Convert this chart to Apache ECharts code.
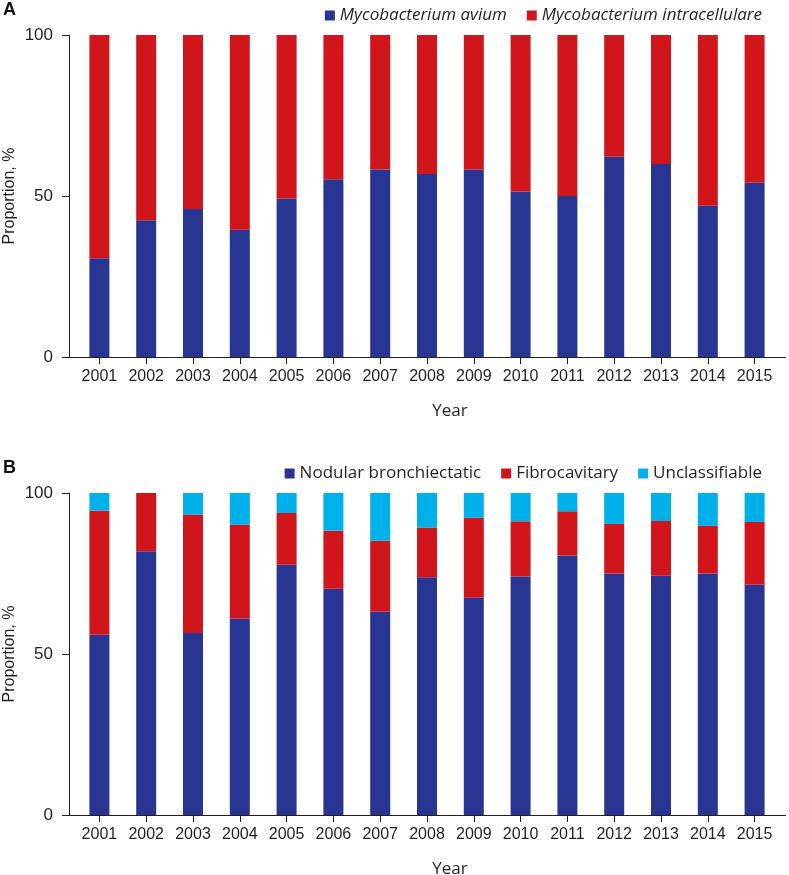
<!DOCTYPE html>
<html>
<head>
<meta charset="utf-8">
<script src="https://cdn.jsdelivr.net/npm/echarts@6/dist/echarts.min.js"></script>
<style>
html,body{margin:0;padding:0;background:#fff;}
#c{width:789px;height:875px;}
</style>
</head>
<body>
<div id="c"></div>
<script>
var years = ['2001','2002','2003','2004','2005','2006','2007','2008','2009','2010','2011','2012','2013','2014','2015'];
var yTicks = [0, 50, 100];

// Panel A: proportion (%)
var avium = [30.7, 42.5, 46.0, 39.5, 49.2, 55.2, 58.2, 56.8, 58.2, 51.4, 50.0, 62.2, 59.9, 47.0, 54.1];
var intracellulare = [69.3, 57.5, 54.0, 60.5, 50.8, 44.8, 41.8, 43.2, 41.8, 48.6, 50.0, 37.8, 40.1, 53.0, 45.9];

// Panel B: proportion (%)
var nodular = [56.0, 81.9, 56.5, 61.0, 77.7, 70.3, 63.1, 73.8, 67.5, 74.1, 80.6, 75.0, 74.3, 75.0, 71.5];
var fibrocavitary = [38.5, 18.1, 36.8, 29.2, 16.1, 18.0, 22.1, 15.5, 24.8, 17.1, 13.7, 15.4, 17.0, 14.8, 19.5];
var unclassifiable = [5.5, 0.0, 6.7, 9.8, 6.2, 11.7, 14.8, 10.7, 7.7, 8.8, 5.7, 9.6, 8.7, 10.2, 9.0];

var BLUE = '#283593', RED = '#d0161b', CYAN = '#00b0ea';
var TXT = '#231f20';
var labelFont = 'Liberation Sans, Arial, sans-serif';
var legendFont = 'Open Sans, sans-serif';

function xAx(gi) {
  return {
    type: 'category', gridIndex: gi, data: years,
    axisLine: { show: false },
    axisTick: { show: true, alignWithLabel: true, length: 7, interval: 0, lineStyle: { color: TXT, width: 1 } },
    axisLabel: { color: TXT, fontSize: 16, fontFamily: labelFont, margin: 12, interval: 0 },
    name: 'Year', nameLocation: 'middle', nameGap: 46,
    nameTextStyle: { color: TXT, fontSize: 17, fontFamily: legendFont, padding: [0, 0, 0, 46] }
  };
}
function yAx(gi) {
  return {
    type: 'value', gridIndex: gi, min: 0, max: 100, interval: 50, offset: 7,
    axisLine: { show: true, lineStyle: { color: TXT, width: 1 } },
    axisTick: { show: true, length: 7, lineStyle: { color: TXT, width: 1 } },
    axisLabel: { color: TXT, fontSize: 17, fontFamily: labelFont, margin: 16,
      formatter: function (v) { return yTicks.indexOf(v) >= 0 ? String(v) : ''; } },
    splitLine: { show: false }
  };
}
function bar(name, data, color, xi, stack) {
  return {
    type: 'bar', name: name, data: data, xAxisIndex: xi, yAxisIndex: xi, stack: stack,
    barWidth: 20, itemStyle: { color: color }, emphasis: { disabled: true }
  };
}

var chart = echarts.init(document.getElementById('c'), null, { renderer: 'canvas' });
var option = {
  animation: false,
  backgroundColor: '#fff',
  grid: [
    { left: 76, right: 11, top: 35, height: 322, containLabel: false, outerBoundsMode: 'none' },
    { left: 76, right: 11, top: 493, height: 322, containLabel: false, outerBoundsMode: 'none' }
  ],
  xAxis: [xAx(0), xAx(1)],
  yAxis: [yAx(0), yAx(1)],
  legend: [
    { data: ['Mycobacterium avium', 'Mycobacterium intracellulare'], right: 22, top: 2,
      icon: 'rect', itemWidth: 10, itemHeight: 10, itemGap: 20,
      textStyle: { color: TXT, fontSize: 17, fontStyle: 'italic', fontFamily: legendFont } },
    { data: ['Nodular bronchiectatic', 'Fibrocavitary', 'Unclassifiable'], right: 22, top: 460,
      icon: 'rect', itemWidth: 10, itemHeight: 10, itemGap: 20,
      textStyle: { color: TXT, fontSize: 17, fontFamily: legendFont } }
  ],
  series: [
    bar('Mycobacterium avium', avium, BLUE, 0, 'a'),
    bar('Mycobacterium intracellulare', intracellulare, RED, 0, 'a'),
    bar('Nodular bronchiectatic', nodular, BLUE, 1, 'b'),
    bar('Fibrocavitary', fibrocavitary, RED, 1, 'b'),
    bar('Unclassifiable', unclassifiable, CYAN, 1, 'b')
  ]
};
chart.setOption(option);

// x-axis baselines spanning from the y tick to the right edge, like the reference
var y0a = chart.convertToPixel({ yAxisIndex: 0 }, 0);
var y0b = chart.convertToPixel({ yAxisIndex: 1 }, 0);
var ymA = chart.convertToPixel({ yAxisIndex: 0 }, 50);
var ymB = chart.convertToPixel({ yAxisIndex: 1 }, 50);
function yName(yc) {
  return { type: 'text', x: 10, y: yc, rotation: Math.PI / 2,
    style: { text: 'Proportion, %', align: 'center', verticalAlign: 'middle',
      font: '16px Liberation Sans, Arial, sans-serif', fill: TXT } };
}
chart.setOption({
  graphic: [
    { type: 'line', shape: { x1: 62, y1: Math.round(y0a) + 0.5, x2: 786, y2: Math.round(y0a) + 0.5 }, style: { stroke: TXT, lineWidth: 1 }, z: 10 },
    { type: 'line', shape: { x1: 62, y1: Math.round(y0b) + 0.5, x2: 786, y2: Math.round(y0b) + 0.5 }, style: { stroke: TXT, lineWidth: 1 }, z: 10 },
    yName(ymA), yName(ymB),
    { type: 'text', left: 3, top: 1, style: { text: 'A', font: 'bold 18px Liberation Sans, Arial, sans-serif', fill: '#111' } },
    { type: 'text', left: 3, top: 459, style: { text: 'B', font: 'bold 18px Liberation Sans, Arial, sans-serif', fill: '#111' } }
  ]
});
</script>
</body>
</html>
